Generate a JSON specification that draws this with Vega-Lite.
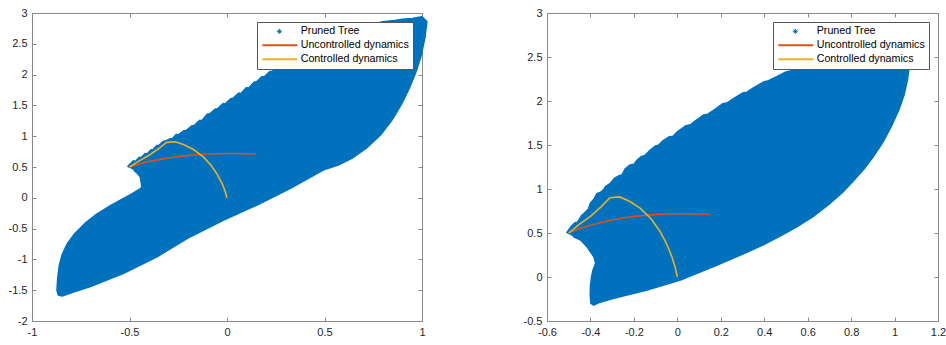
{
"$schema":"https://vega.github.io/schema/vega-lite/v6.json",
"background":"white",
"padding":{"left":7,"top":6,"right":0,"bottom":0},
"spacing":93,
"config":{
 "font":"Liberation Sans",
 "view":{"stroke":"#8a8a8a","strokeWidth":1},
 "axis":{"domainColor":"#8a8a8a","tickColor":"#8a8a8a","tickSize":-4,"labelColor":"#262626","labelFont":"Liberation Sans","labelFontSize":11,"grid":false,"labelFlush":false,"labelOverlap":false},
 "axisX":{"labelPadding":9},
 "axisY":{"labelPadding":9},
 "legend":{"orient":"top-right","offset":9,"fillColor":"white","strokeColor":"#555555","padding":4,"labelFont":"Liberation Sans","labelFontSize":10.7,"labelColor":"#000000","symbolSize":100,"labelOffset":29,"rowPadding":2,"symbolStrokeWidth":2}
},
"resolve":{"scale":{"color":"independent"},"legend":{"color":"independent"}},
"datasets":{
"traj":[
{"s":"Uncontrolled dynamics","i":0,"x":-0.5,"y":0.5},{"s":"Uncontrolled dynamics","i":1,"x":-0.45,"y":0.55},{"s":"Uncontrolled dynamics","i":2,"x":-0.4,"y":0.588},{"s":"Uncontrolled dynamics","i":3,"x":-0.35,"y":0.62},{"s":"Uncontrolled dynamics","i":4,"x":-0.3,"y":0.647},{"s":"Uncontrolled dynamics","i":5,"x":-0.25,"y":0.67},{"s":"Uncontrolled dynamics","i":6,"x":-0.2,"y":0.688},{"s":"Uncontrolled dynamics","i":7,"x":-0.15,"y":0.7},{"s":"Uncontrolled dynamics","i":8,"x":-0.1,"y":0.71},{"s":"Uncontrolled dynamics","i":9,"x":-0.05,"y":0.716},{"s":"Uncontrolled dynamics","i":10,"x":0,"y":0.718},{"s":"Uncontrolled dynamics","i":11,"x":0.05,"y":0.718},{"s":"Uncontrolled dynamics","i":12,"x":0.1,"y":0.716},{"s":"Uncontrolled dynamics","i":13,"x":0.15,"y":0.711},
{"s":"Controlled dynamics","i":0,"x":-0.5,"y":0.5},{"s":"Controlled dynamics","i":1,"x":-0.45,"y":0.6},{"s":"Controlled dynamics","i":2,"x":-0.4,"y":0.69},{"s":"Controlled dynamics","i":3,"x":-0.35,"y":0.8},{"s":"Controlled dynamics","i":4,"x":-0.31,"y":0.9},{"s":"Controlled dynamics","i":5,"x":-0.265,"y":0.91},{"s":"Controlled dynamics","i":6,"x":-0.22,"y":0.86},{"s":"Controlled dynamics","i":7,"x":-0.17,"y":0.78},{"s":"Controlled dynamics","i":8,"x":-0.12,"y":0.66},{"s":"Controlled dynamics","i":9,"x":-0.08,"y":0.52},{"s":"Controlled dynamics","i":10,"x":-0.05,"y":0.38},{"s":"Controlled dynamics","i":11,"x":-0.025,"y":0.23},{"s":"Controlled dynamics","i":12,"x":-0.01,"y":0.11},{"s":"Controlled dynamics","i":13,"x":0,"y":0}
],
"tree1":[
{"i":0,"x":-0.51,"y":0.5},{"i":1,"x":-0.5,"y":0.54},{"i":2,"x":-0.48,"y":0.6},{"i":3,"x":-0.47,"y":0.59},{"i":4,"x":-0.45,"y":0.66},{"i":5,"x":-0.44,"y":0.65},{"i":6,"x":-0.42,"y":0.72},{"i":7,"x":-0.41,"y":0.71},{"i":8,"x":-0.39,"y":0.78},{"i":9,"x":-0.38,"y":0.78},{"i":10,"x":-0.36,"y":0.85},{"i":11,"x":-0.35,"y":0.85},{"i":12,"x":-0.33,"y":0.91},{"i":13,"x":-0.31,"y":0.93},{"i":14,"x":-0.29,"y":0.96},{"i":15,"x":-0.28,"y":0.96},{"i":16,"x":-0.26,"y":1.03},{"i":17,"x":-0.25,"y":1.02},{"i":18,"x":-0.22,"y":1.09},{"i":19,"x":-0.21,"y":1.09},{"i":20,"x":-0.18,"y":1.17},{"i":21,"x":-0.17,"y":1.17},{"i":22,"x":-0.14,"y":1.26},{"i":23,"x":-0.13,"y":1.25},{"i":24,"x":-0.1,"y":1.36},{"i":25,"x":-0.09,"y":1.36},{"i":26,"x":-0.06,"y":1.44},{"i":27,"x":-0.05,"y":1.44},{"i":28,"x":-0.02,"y":1.53},{"i":29,"x":-0.01,"y":1.52},{"i":30,"x":0.02,"y":1.61},{"i":31,"x":0.03,"y":1.61},{"i":32,"x":0.06,"y":1.7},{"i":33,"x":0.07,"y":1.69},{"i":34,"x":0.1,"y":1.79},{"i":35,"x":0.11,"y":1.78},{"i":36,"x":0.14,"y":1.88},{"i":37,"x":0.15,"y":1.88},{"i":38,"x":0.18,"y":1.97},{"i":39,"x":0.19,"y":1.96},{"i":40,"x":0.22,"y":2.05},{"i":41,"x":0.23,"y":2.05},{"i":42,"x":0.26,"y":2.12},{"i":43,"x":0.4,"y":2.4},{"i":44,"x":0.55,"y":2.62},{"i":45,"x":0.7,"y":2.78},{"i":46,"x":0.8,"y":2.86},{"i":47,"x":0.86,"y":2.88},{"i":48,"x":0.9,"y":2.9},{"i":49,"x":0.95,"y":2.91},{"i":50,"x":1.0,"y":2.94},{"i":51,"x":1.025,"y":2.86},{"i":52,"x":1.015,"y":2.6},{"i":53,"x":0.995,"y":2.3},{"i":54,"x":0.97,"y":2.05},{"i":55,"x":0.935,"y":1.78},{"i":56,"x":0.895,"y":1.52},{"i":57,"x":0.85,"y":1.28},{"i":58,"x":0.79,"y":1.03},{"i":59,"x":0.72,"y":0.82},{"i":60,"x":0.64,"y":0.64},{"i":61,"x":0.57,"y":0.53},{"i":62,"x":0.5,"y":0.46},{"i":63,"x":0.325,"y":0.153},{"i":64,"x":0.154,"y":-0.118},{"i":65,"x":-0.017,"y":-0.361},{"i":66,"x":-0.188,"y":-0.632},{"i":67,"x":-0.359,"y":-0.957},{"i":68,"x":-0.53,"y":-1.226},{"i":69,"x":-0.7,"y":-1.44},{"i":70,"x":-0.78,"y":-1.52},{"i":71,"x":-0.846,"y":-1.594},{"i":72,"x":-0.865,"y":-1.58},{"i":73,"x":-0.872,"y":-1.5},{"i":74,"x":-0.868,"y":-1.3},{"i":75,"x":-0.86,"y":-1.1},{"i":76,"x":-0.845,"y":-0.92},{"i":77,"x":-0.82,"y":-0.75},{"i":78,"x":-0.78,"y":-0.58},{"i":79,"x":-0.73,"y":-0.42},{"i":80,"x":-0.67,"y":-0.27},{"i":81,"x":-0.6,"y":-0.13},{"i":82,"x":-0.547,"y":-0.04},{"i":83,"x":-0.49,"y":0.06},{"i":84,"x":-0.444,"y":0.15},{"i":85,"x":-0.437,"y":0.17},{"i":86,"x":-0.44,"y":0.25},{"i":87,"x":-0.445,"y":0.34},{"i":88,"x":-0.46,"y":0.4},{"i":89,"x":-0.478,"y":0.45}
],
"tree2":[
{"i":0,"x":-0.51,"y":0.5},{"i":1,"x":-0.49,"y":0.57},{"i":2,"x":-0.47,"y":0.62},{"i":3,"x":-0.46,"y":0.62},{"i":4,"x":-0.44,"y":0.7},{"i":5,"x":-0.43,"y":0.72},{"i":6,"x":-0.41,"y":0.77},{"i":7,"x":-0.4,"y":0.84},{"i":8,"x":-0.385,"y":0.88},{"i":9,"x":-0.37,"y":0.95},{"i":10,"x":-0.355,"y":0.96},{"i":11,"x":-0.34,"y":0.99},{"i":12,"x":-0.33,"y":1.03},{"i":13,"x":-0.31,"y":1.06},{"i":14,"x":-0.29,"y":1.12},{"i":15,"x":-0.27,"y":1.15},{"i":16,"x":-0.255,"y":1.16},{"i":17,"x":-0.24,"y":1.23},{"i":18,"x":-0.22,"y":1.27},{"i":19,"x":-0.2,"y":1.28},{"i":20,"x":-0.185,"y":1.33},{"i":21,"x":-0.165,"y":1.37},{"i":22,"x":-0.15,"y":1.38},{"i":23,"x":-0.13,"y":1.43},{"i":24,"x":-0.1,"y":1.49},{"i":25,"x":-0.085,"y":1.5},{"i":26,"x":-0.07,"y":1.54},{"i":27,"x":-0.04,"y":1.59},{"i":28,"x":-0.02,"y":1.6},{"i":29,"x":0.0,"y":1.65},{"i":30,"x":0.04,"y":1.72},{"i":31,"x":0.06,"y":1.73},{"i":32,"x":0.08,"y":1.77},{"i":33,"x":0.12,"y":1.84},{"i":34,"x":0.14,"y":1.85},{"i":35,"x":0.17,"y":1.9},{"i":36,"x":0.21,"y":1.97},{"i":37,"x":0.23,"y":1.98},{"i":38,"x":0.26,"y":2.03},{"i":39,"x":0.3,"y":2.09},{"i":40,"x":0.32,"y":2.1},{"i":41,"x":0.35,"y":2.15},{"i":42,"x":0.4,"y":2.22},{"i":43,"x":0.42,"y":2.23},{"i":44,"x":0.46,"y":2.28},{"i":45,"x":0.5,"y":2.33},{"i":46,"x":0.52,"y":2.34},{"i":47,"x":0.56,"y":2.39},{"i":48,"x":0.7,"y":2.55},{"i":49,"x":0.9,"y":2.7},{"i":50,"x":1.0,"y":2.7},{"i":51,"x":1.05,"y":2.58},{"i":52,"x":1.068,"y":2.4},{"i":53,"x":1.06,"y":2.25},{"i":54,"x":1.045,"y":2.08},{"i":55,"x":1.02,"y":1.9},{"i":56,"x":0.985,"y":1.71},{"i":57,"x":0.946,"y":1.53},{"i":58,"x":0.9,"y":1.36},{"i":59,"x":0.86,"y":1.23},{"i":60,"x":0.81,"y":1.09},{"i":61,"x":0.76,"y":0.96},{"i":62,"x":0.7,"y":0.83},{"i":63,"x":0.626,"y":0.69},{"i":64,"x":0.55,"y":0.57},{"i":65,"x":0.473,"y":0.465},{"i":66,"x":0.4,"y":0.37},{"i":67,"x":0.32,"y":0.28},{"i":68,"x":0.167,"y":0.12},{"i":69,"x":0.014,"y":-0.034},{"i":70,"x":-0.139,"y":-0.148},{"i":71,"x":-0.292,"y":-0.242},{"i":72,"x":-0.36,"y":-0.29},{"i":73,"x":-0.385,"y":-0.32},{"i":74,"x":-0.398,"y":-0.3},{"i":75,"x":-0.401,"y":-0.2},{"i":76,"x":-0.4,"y":-0.1},{"i":77,"x":-0.395,"y":0.0},{"i":78,"x":-0.388,"y":0.08},{"i":79,"x":-0.376,"y":0.155},{"i":80,"x":-0.384,"y":0.23},{"i":81,"x":-0.415,"y":0.34},{"i":82,"x":-0.445,"y":0.42},{"i":83,"x":-0.48,"y":0.46}
]
},
"hconcat":[
{
 "width":390,"height":308,
 "resolve":{"axis":{"x":"independent","y":"independent"}},
 "layer":[
  {"data":{"name":"tree1"},
   "mark":{"type":"line","fill":"#0072BD","stroke":"#0072BD","strokeWidth":1.5,"strokeJoin":"round"},
   "encoding":{
    "x":{"field":"x","type":"quantitative","title":null,"scale":{"domain":[-1,1],"nice":false,"zero":false},"axis":{"orient":"bottom","values":[-1,-0.5,0,0.5,1],"labelExpr":"'' + datum.value"}},
    "y":{"field":"y","type":"quantitative","title":null,"scale":{"domain":[-2,3],"nice":false,"zero":false},"axis":{"orient":"left","values":[-2,-1.5,-1,-0.5,0,0.5,1,1.5,2,2.5,3],"labelExpr":"'' + datum.value"}},
    "order":{"field":"i","type":"quantitative"}
   }},
  {"data":{"name":"traj"},
   "mark":{"type":"line","strokeWidth":1.6},
   "encoding":{
    "x":{"field":"x","type":"quantitative","title":null,"axis":{"orient":"top","labels":false,"values":[-1,-0.5,0,0.5,1]}},
    "y":{"field":"y","type":"quantitative","title":null,"axis":{"orient":"right","labels":false,"values":[-2,-1.5,-1,-0.5,0,0.5,1,1.5,2,2.5,3]}},
    "order":{"field":"i","type":"quantitative"},
    "color":{"field":"s","type":"nominal","scale":{"domain":["Pruned Tree","Uncontrolled dynamics","Controlled dynamics"],"range":["#0072BD","#D95319","#EDB120"]},
     "legend":{"title":null,"encode":{"symbols":{"update":{"shape":{"signal":"datum.value === 'Pruned Tree' ? 'M2.6,-0.5L2.6,0.5M2.1,0L3.1,0M2.25,-0.35L2.95,0.35M2.25,0.35L2.95,-0.35' : 'M-0.8,0L6.2,0'"},"strokeWidth":{"signal":"datum.value === 'Pruned Tree' ? 1 : 2"}}}}}}
   }}
 ]
},
{
 "width":391,"height":308,
 "resolve":{"axis":{"x":"independent","y":"independent"}},
 "layer":[
  {"data":{"name":"tree2"},
   "mark":{"type":"line","fill":"#0072BD","stroke":"#0072BD","strokeWidth":1.5,"strokeJoin":"round"},
   "encoding":{
    "x":{"field":"x","type":"quantitative","title":null,"scale":{"domain":[-0.6,1.2],"nice":false,"zero":false},"axis":{"orient":"bottom","values":[-0.6,-0.4,-0.2,0,0.2,0.4,0.6,0.8,1,1.2],"labelExpr":"'' + datum.value"}},
    "y":{"field":"y","type":"quantitative","title":null,"scale":{"domain":[-0.5,3],"nice":false,"zero":false},"axis":{"orient":"left","values":[-0.5,0,0.5,1,1.5,2,2.5,3],"labelExpr":"'' + datum.value"}},
    "order":{"field":"i","type":"quantitative"}
   }},
  {"data":{"name":"traj"},
   "mark":{"type":"line","strokeWidth":1.6},
   "encoding":{
    "x":{"field":"x","type":"quantitative","title":null,"axis":{"orient":"top","labels":false,"values":[-0.6,-0.4,-0.2,0,0.2,0.4,0.6,0.8,1,1.2]}},
    "y":{"field":"y","type":"quantitative","title":null,"axis":{"orient":"right","labels":false,"values":[-0.5,0,0.5,1,1.5,2,2.5,3]}},
    "order":{"field":"i","type":"quantitative"},
    "color":{"field":"s","type":"nominal","scale":{"domain":["Pruned Tree","Uncontrolled dynamics","Controlled dynamics"],"range":["#0072BD","#D95319","#EDB120"]},
     "legend":{"title":null,"encode":{"symbols":{"update":{"shape":{"signal":"datum.value === 'Pruned Tree' ? 'M2.6,-0.5L2.6,0.5M2.1,0L3.1,0M2.25,-0.35L2.95,0.35M2.25,0.35L2.95,-0.35' : 'M-0.8,0L6.2,0'"},"strokeWidth":{"signal":"datum.value === 'Pruned Tree' ? 1 : 2"}}}}}}
   }}
 ]
}
]
}
